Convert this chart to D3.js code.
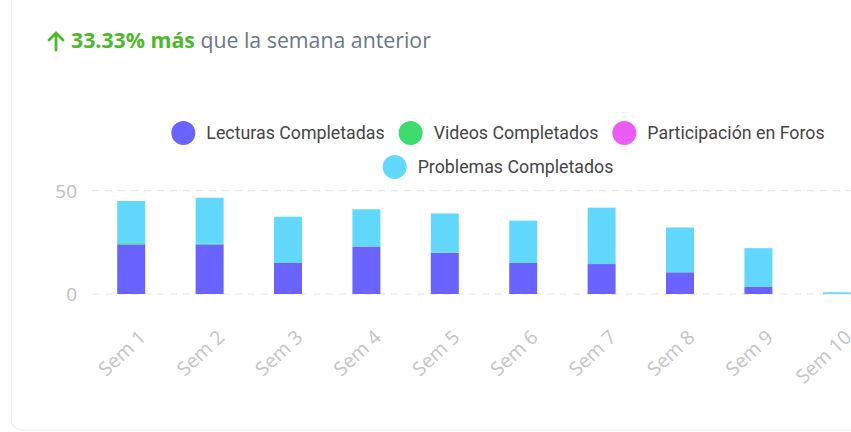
<!DOCTYPE html>
<html><head><meta charset="utf-8">
<script src="https://cdn.jsdelivr.net/npm/d3@7/dist/d3.min.js"></script>
<style>body{margin:0;background:#fff;}svg{display:block;}</style>
</head><body>
<svg id="c" width="851" height="432"></svg>
<script>
const categories = ["Sem 1","Sem 2","Sem 3","Sem 4","Sem 5","Sem 6","Sem 7","Sem 8","Sem 9","Sem 10"];
const seriesNames = ["Lecturas Completadas","Videos Completados","Participación en Foros","Problemas Completados"];
const seriesColors = ["#6a63ff","#3ddc6e","#ea5cf5","#63d8ff"];
const lecturas = [24, 24, 15, 23, 20, 15, 14.5, 10.5, 3.4, 0];
const videos = [0.6, 0.3, 0, 0, 0, 0, 0, 0, 0, 0];
const foros = [0, 0, 0, 0, 0, 0, 0, 0, 0, 0];
const problemas = [20.4, 22.3, 22.4, 18, 19, 20.5, 27.3, 21.7, 18.8, 0.8];
const yTicks = [0, 50];

const svg = d3.select("#c");
// card
svg.append("rect").attr("x",11.5).attr("y",-20).attr("width",900).attr("height",450)
  .attr("rx",10).attr("fill","#fff").attr("stroke","#ececec");

// header
const green = "#4cb82c";
svg.append("path").attr("d","M56,50 L56,33 M49,40 L56,33 L63,40")
  .attr("fill","none").attr("stroke",green).attr("stroke-width",2.8).attr("stroke-linecap","round").attr("stroke-linejoin","round");
const h = svg.append("text").attr("x",71).attr("y",48).attr("font-family","'Open Sans'").attr("font-size",21.3);
h.append("tspan").attr("fill",green).attr("font-weight","bold").text("33.33% más");
h.append("tspan").attr("fill","#69768a").text(" que la semana anterior");

const x = d3.scaleBand().domain(categories).range([92, 876]).paddingInner(0.643).paddingOuter(0.3215);
const y = d3.scaleLinear().domain([0, 50]).range([294, 190.7]);

// grid
const g = svg.append("g");
g.selectAll("line.grid").data(yTicks).join("line")
  .attr("x1",92).attr("x2",880).attr("y1",d=>y(d)).attr("y2",d=>y(d))
  .attr("stroke","#e2e2e2").attr("stroke-dasharray","7,6");
g.selectAll("text.yl").data(yTicks).join("text")
  .attr("x",77).attr("y",d=>y(d)+7).attr("text-anchor","end")
  .attr("font-family","'Open Sans'").attr("font-size",19).attr("fill","#bdbdbd").text(d=>d);

const rows = categories.map((c,i)=>({cat:c, s0:lecturas[i], s1:videos[i], s2:foros[i], s3:problemas[i]}));
const stack = d3.stack().keys(["s0","s1","s2","s3"])(rows);
stack.forEach((layer,k)=>{
  svg.append("g").selectAll("rect").data(layer).join("rect")
    .attr("x",d=>x(d.data.cat)).attr("width",x.bandwidth())
    .attr("y",d=>y(d[1])).attr("height",d=>Math.max(0,y(d[0])-y(d[1])))
    .attr("fill",seriesColors[k]);
});

// x labels
svg.append("g").selectAll("text").data(categories).join("text")
  .attr("transform",d=>`translate(${x(d)+x.bandwidth()/2+16},${339}) rotate(-43)`)
  .attr("text-anchor","end").attr("font-family","'Open Sans'").attr("font-size",19.5)
  .attr("fill","#c4c4c4").text(d=>d);

// legend
const legRows = [[0,1,2],[3]];
const legY = [133, 167];
legRows.forEach((r,ri)=>{
  const items = r.map(i=>({i, w: 0}));
  const lg = svg.append("g");
  let cx = 0;
  items.forEach(it=>{
    const gi = lg.append("g");
    gi.append("circle").attr("cx",12).attr("cy",0).attr("r",12).attr("fill",seriesColors[it.i]);
    const t = gi.append("text").attr("x",35).attr("y",6).attr("font-family","Roboto, 'Liberation Sans', Arial")
      .attr("font-size",17.8).attr("fill","#454545").text(seriesNames[it.i]);
    it.w = 35 + t.node().getComputedTextLength();
    gi.attr("transform",`translate(${cx},0)`);
    cx += it.w + 14;
  });
  const total = cx - 14;
  lg.attr("transform",`translate(${498 - total/2},${legY[ri]})`);
});
</script>
</body></html>
